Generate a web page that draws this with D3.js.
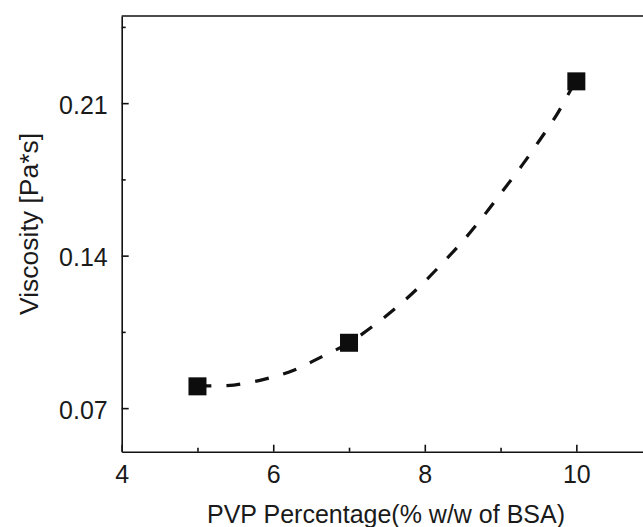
<!DOCTYPE html>
<html lang="en">
<head>
<meta charset="utf-8">
<title>PVP viscosity</title>
<style>
  body { margin: 0; background: #fff; }
  svg { display: block; }
  .axis text { font-family: "Liberation Sans", Arial, sans-serif; font-size: 25px; fill: #1a1a1a; }
  .axis path, .axis line { stroke: #111; stroke-width: 1.6px; }
  .title { font-family: "Liberation Sans", Arial, sans-serif; fill: #1a1a1a; }
</style>
<script src="https://cdn.jsdelivr.net/npm/d3@7/dist/d3.min.js"></script>
</head>
<body>
<div id="chart"></div>
<script>
// measured points
var pvp = [5, 7, 10];
var viscosity = [0.080, 0.100, 0.220];

// dashed fit curve
var fitX = [5, 5.15, 5.48, 5.89, 6.27, 6.63, 7.0, 7.33, 7.66, 7.96, 8.24, 8.52, 8.78, 9.03, 9.28, 9.52, 9.74, 9.91, 10];
var fitY = [0.0802, 0.0802, 0.0806, 0.0833, 0.0874, 0.0934, 0.1000, 0.1080, 0.1172, 0.1268, 0.1368, 0.1474, 0.1584, 0.1698, 0.1813, 0.1932, 0.2046, 0.2151, 0.2205];

var xTicks = [4, 6, 8, 10],
    xMinor = [5, 7, 9, 11],
    yTicks = [0.07, 0.14, 0.21],
    yMinor = [0.105, 0.175, 0.245];

var W = 643, H = 527;
var m = {left: 121.7, top: 16, bottom: 451.7, right: 690};

var x = d3.scaleLinear().domain([4, 11.5]).range([m.left, m.right]);
var y = d3.scaleLinear().domain([0.05, 0.25]).range([m.bottom, m.top]);

var svg = d3.select("#chart").append("svg")
    .attr("width", W).attr("height", H);

svg.append("rect").attr("width", W).attr("height", H).attr("fill", "#fff");

// minor ticks first (no labels)
svg.append("g").attr("class", "axis")
    .attr("transform", "translate(0," + m.bottom + ")")
    .call(d3.axisBottom(x).tickValues(xMinor).tickSize(-4).tickFormat(""))
    .select(".domain").remove();
svg.append("g").attr("class", "axis")
    .attr("transform", "translate(" + m.left + ",0)")
    .call(d3.axisLeft(y).tickValues(yMinor).tickSize(-4).tickFormat(""))
    .select(".domain").remove();

// main axes
svg.append("g").attr("class", "axis")
    .attr("transform", "translate(0," + m.bottom + ")")
    .call(d3.axisBottom(x).tickValues(xTicks).tickSizeInner(-7).tickSizeOuter(0).tickPadding(13.5).tickFormat(d3.format("d")));

var ya = svg.append("g").attr("class", "axis")
    .attr("transform", "translate(" + m.left + ",0)")
    .call(d3.axisLeft(y).tickValues(yTicks).tickSizeInner(-7).tickSizeOuter(0).tickPadding(14).tickFormat(d3.format(".2f")));
ya.selectAll("text").attr("dy", "0.4em");

// top frame line (right side falls outside the window)
svg.append("line")
    .attr("x1", x(4)).attr("x2", x(11.5))
    .attr("y1", y(0.25)).attr("y2", y(0.25))
    .attr("stroke", "#111").attr("stroke-width", 1.6);

// fitted dashed curve
var fit = fitX.map(function (d, i) { return [d, fitY[i]]; });
var line = d3.line()
    .x(function (d) { return x(d[0]); })
    .y(function (d) { return y(d[1]); })
    .curve(d3.curveCatmullRom);

svg.append("path")
    .datum(fit)
    .attr("d", line)
    .attr("fill", "none")
    .attr("stroke", "#111")
    .attr("stroke-width", 3.2)
    .attr("stroke-dasharray", "14,15");

// square markers
var sq = 18;
svg.append("g").selectAll("rect").data(pvp)
    .enter().append("rect")
    .attr("x", function (d) { return x(d) - sq / 2; })
    .attr("y", function (d, i) { return y(viscosity[i]) - sq / 2; })
    .attr("width", sq).attr("height", sq)
    .attr("fill", "#0d0d0d");

// axis titles
svg.append("text").attr("class", "title")
    .attr("x", 386).attr("y", 523)
    .attr("text-anchor", "middle")
    .style("font-size", "25px")
    .text("PVP Percentage(% w/w of BSA)");

svg.append("text").attr("class", "title")
    .attr("transform", "translate(38,224) rotate(-90)")
    .attr("text-anchor", "middle")
    .style("font-size", "26.5px")
    .text("Viscosity [Pa*s]");
</script>
</body>
</html>
